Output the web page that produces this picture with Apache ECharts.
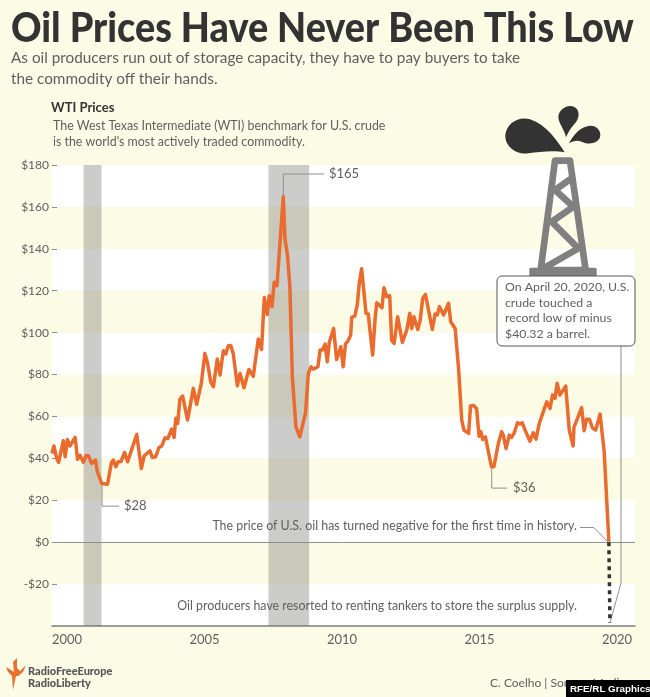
<!DOCTYPE html>
<html><head><meta charset="utf-8">
<style>html,body{margin:0;padding:0;background:#fcfbe6}#c{width:650px;height:697px}</style>
<script src="https://cdn.jsdelivr.net/npm/echarts@6/dist/echarts.min.js"></script>
</head><body><div id="c"></div>
<script>
const yearAxisTicks=[2000,2005,2010,2015,2020];
const years=[2000.0,2000.07,2000.17,2000.24,2000.41,2000.48,2000.56,2000.65,2000.84,2000.93,2001.02,2001.14,2001.24,2001.33,2001.44,2001.58,2001.65,2001.81,2002.02,2002.16,2002.23,2002.32,2002.41,2002.51,2002.64,2002.75,2002.82,2002.93,2003.08,2003.25,2003.35,2003.56,2003.65,2003.77,2003.89,2003.99,2004.11,2004.21,2004.35,2004.44,2004.50,2004.57,2004.65,2004.75,2004.93,2005.14,2005.26,2005.43,2005.56,2005.66,2005.77,2005.87,2006.01,2006.11,2006.23,2006.32,2006.41,2006.50,2006.59,2006.74,2006.84,2006.98,2007.16,2007.32,2007.50,2007.62,2007.72,2007.83,2007.90,2008.0,2008.08,2008.18,2008.41,2008.47,2008.57,2008.65,2008.74,2008.87,2009.01,2009.22,2009.32,2009.42,2009.50,2009.67,2009.75,2009.83,2009.93,2010.01,2010.08,2010.24,2010.35,2010.50,2010.59,2010.67,2010.76,2010.86,2010.90,2011.01,2011.10,2011.18,2011.26,2011.42,2011.50,2011.66,2011.75,2011.81,2012.0,2012.07,2012.17,2012.28,2012.35,2012.44,2012.57,2012.74,2012.90,2013.01,2013.08,2013.16,2013.30,2013.39,2013.48,2013.58,2013.83,2013.93,2014.01,2014.09,2014.24,2014.42,2014.50,2014.66,2014.78,2014.90,2014.98,2015.05,2015.15,2015.22,2015.32,2015.44,2015.53,2015.60,2015.66,2015.76,2015.98,2016.07,2016.23,2016.35,2016.41,2016.51,2016.63,2016.71,2016.80,2016.93,2017.02,2017.10,2017.20,2017.38,2017.50,2017.60,2017.72,2017.99,2018.11,2018.20,2018.29,2018.37,2018.47,2018.68,2018.81,2018.95,2018.98,2019.26,2019.35,2019.44,2019.54,2019.65,2019.77,2019.93,2020.08,2020.25];
const wti=[42.3,45.9,40.0,38.1,48.4,40.8,49.0,45.9,50.0,39.6,41.5,38.1,41.4,41.1,37.6,39.2,33.6,28.0,27.7,37.9,39.2,36.0,38.4,38.5,42.8,38.4,37.9,45.5,51.4,35.2,41.1,43.6,40.4,40.8,45.2,45.9,49.8,49.4,54.0,50.0,59.1,56.7,68.2,69.7,58.3,73.4,65.8,75.8,90.1,85.3,76.6,74.2,87.4,79.8,91.4,89.8,93.8,93.8,90.1,74.7,80.5,73.7,82.4,79.2,96.9,92.0,116.8,108.7,117.6,112.4,124.0,122.4,164.9,145,136.2,121.9,78.9,55.0,50.3,61.7,80.5,83.7,82.6,83.7,91.7,91.7,94.5,86.1,95.2,102,87.2,93.3,83.7,94.5,96,98.8,107.3,107.9,113.2,124.3,130.5,109.2,108.9,89.3,106.8,114.3,111.9,121.4,117.1,117.6,96.4,94.8,107.6,95.3,101.2,109.2,102,107.6,101.5,106,116.3,118.2,101.5,108.9,108.4,112.4,108.4,114,105.2,102,83.7,58.3,53.5,54.3,51.9,65,65.3,63.8,50.6,52.7,49.0,50.3,36,36,47.1,52.7,51.1,44.7,51.1,50,51.9,57,56.4,57,53.5,48.2,52.2,49.2,56.7,67,63.8,70.2,68.6,75.8,70.2,74.5,53.5,45.9,54.8,64.2,53.2,58.7,58.7,54.6,53.5,61.1,43.1,0.2];
const negativeYears=[2020.25,2020.29];
const negativeValues=[0,-38.5];
const recessions=[[2001.15,2001.8],[2007.87,2009.35]];
const leader165=[[2008.41,165],[2008.41,175.7],[2009.89,175.7]];
const leader28=[[2001.82,27.7],[2001.82,17.2],[2002.44,17.2]];
const leader36=[[2015.99,36],[2015.99,25.8],[2016.55,25.8]];
const leaderNegative=[[2019.2,7],[2019.7,7],[2020.23,0]];
const leaderRecord=[[2020.69,93.6],[2020.69,-19.6],[2020.3,-38]];

const body='Lato';
const grey='#5f5f5f';
const shapes={
 dropBig:'M224,157 C200,120 170,75 120,58 C85,48 50,70 46,105 C44,140 80,165 115,160 C150,155 190,150 224,157 Z',
 dropTop:'M228,112 C225,90 205,70 205,50 C207,25 235,12 252,20 C272,30 268,55 255,70 C245,82 235,95 228,112 Z',
 dropRight:'M237,130 C250,105 270,80 300,77 C322,76 335,95 330,112 C322,132 295,135 275,125 C262,120 250,122 237,130 Z',
 derrick:'M195,182 L240,182 L287,510 L152,510 Z M245,235 L195,270 L250,320 L185,365 L265,445 L160,505',
 torch:'M13,690 L12,676 L8,672 L6,667 L11,670 L14,672 L13,662 L17,658 L17,668 L20,671 L26,665 L23,672 L18,676 L16,676 Z'
};
Object.keys(shapes).forEach(k=>echarts.graphic.registerShape(k,echarts.graphic.extendPath(shapes[k])));
function T(text,x,y,size,opts){opts=opts||{};return {type:'text',x:x,y:y,scaleX:opts.sx||1,z:opts.z||20,style:{text:text,fill:opts.fill||grey,font:(opts.weight||'normal')+' '+size+'px '+(opts.family||body),textAlign:opts.align||'left',textVerticalAlign:'middle'}};}
function leader(d){return {type:'line',data:d,symbol:'none',silent:true,z:4,lineStyle:{color:'#8f8f8f',width:1}};}

const graphic=[
 T('Oil Prices Have Never Been This Low',11,29,41,{weight:'900',fill:'#333333',sx:0.92}),
 T('As oil producers run out of storage capacity, they have to pay buyers to take',11,58,15.3),
 T('the commodity off their hands.',11,79,15.3),
 T('WTI Prices',51,108,13,{weight:'bold',fill:'#333333'}),
 T('The West Texas Intermediate (WTI) benchmark for U.S. crude',53,126,12.4),
 T("is the world's most actively traded commodity.",53,142,12.4),
 T('$165',329,174,13),T('$28',124,506,13),T('$36',513,488,13),
 T('The price of U.S. oil has turned negative for the first time in history.',577,526,12.4,{align:'right'}),
 T('Oil producers have resorted to renting tankers to store the surplus supply.',577,606,12.4,{align:'right'}),
 {type:'group',x:490,y:100,scaleX:1/3,scaleY:1/3,children:[
  {type:'dropBig',z:15,style:{fill:'#333333'}},
  {type:'dropTop',z:15,style:{fill:'#333333'}},
  {type:'dropRight',z:15,style:{fill:'#333333'}},
  {type:'derrick',z:15,style:{fill:null,stroke:'#808080',lineWidth:20,lineJoin:'round'}},
  {type:'rect',z:15,shape:{x:118,y:503,width:202,height:30,r:5},style:{fill:'#808080'}}
 ]},
 {type:'rect',z:16,shape:{x:497,y:276,width:138,height:70,r:5},style:{fill:'#ffffff',stroke:'#555555',lineWidth:1}},
 T('On April 20, 2020, U.S.',505,287,12.3,{z:17}),
 T('crude touched a',505,303,12.3,{z:17}),
 T('record low of minus',505,318,12.3,{z:17}),
 T('$40.32 a barrel.',505,334,12.3,{z:17}),
 {type:'torch',z:18,style:{fill:'#e9702f'}},
 T('RadioFreeEurope',28,671,11,{weight:'900',fill:'#555555'}),
 T('RadioLiberty',28,683,11,{weight:'900',fill:'#555555'}),
 T('C. Coelho | Source: Media',490,683,12),
 {type:'rect',z:30,shape:{x:566,y:680,width:84,height:17},style:{fill:'#000000'}},
 T('RFE/RL Graphics',570,689,9.8,{z:31,weight:'bold',family:'"Liberation Sans"',fill:'#ffffff'})
];

const chart=echarts.init(document.getElementById('c'),null,{renderer:'canvas'});
chart.setOption({
 animation:false,
 backgroundColor:'#fcfbe6',
 graphic:graphic,
 grid:{left:52,right:15,top:165,bottom:71,containLabel:false},
 xAxis:{type:'value',min:2000,max:2021.2,interval:5,
  axisLine:{show:true,onZero:false,lineStyle:{color:'#808080',width:1.5}},
  axisTick:{show:false},splitLine:{show:false},
  axisLabel:{showMaxLabel:false,showMinLabel:true,align:'left',margin:7,fontFamily:body,fontSize:13,color:grey,formatter:v=>yearAxisTicks.includes(v)?String(v):''}},
 yAxis:{type:'value',min:-40,max:180,interval:20,
  axisLine:{show:false},
  axisTick:{show:true,inside:true,length:5,lineStyle:{color:'#8f8f8f'}},
  splitLine:{show:false},
  splitArea:{show:true,areaStyle:{color:['#ffffff','#fcfbe6']}},
  axisLabel:{margin:3,fontFamily:body,fontSize:12,color:grey,formatter:v=>v===-40?'':(v<0?'-$'+(-v):'$'+v)}},
 series:[
  {type:'line',data:years.map((y,i)=>[y,wti[i]]),symbol:'none',z:6,silent:true,lineStyle:{color:'#e96b2d',width:3.5,join:'round'},
   markArea:{silent:true,z:2,itemStyle:{color:'rgba(100,100,95,0.33)'},data:recessions.map(r=>[{xAxis:r[0]},{xAxis:r[1]}])},
   markLine:{silent:true,symbol:'none',label:{show:false},z:3,lineStyle:{color:'#8f8f8f',width:1,type:'solid'},data:[{yAxis:0}]}},
  {type:'line',data:negativeYears.map((y,i)=>[y,negativeValues[i]]),symbol:'none',z:7,silent:true,lineStyle:{color:'#333333',width:3.5,type:[4,4]}},
  leader(leader165),leader(leader28),leader(leader36),leader(leaderNegative),leader(leaderRecord)
 ]
});
</script></body></html>
